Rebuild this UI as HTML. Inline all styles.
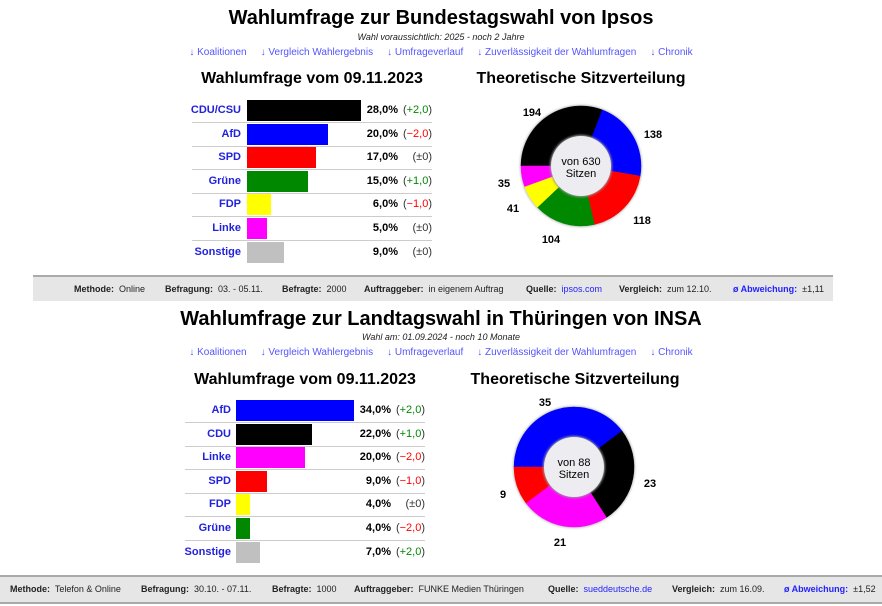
<!DOCTYPE html>
<html><head><meta charset="utf-8"><style>
body{margin:0;width:882px;height:606px;background:#fff;font-family:"Liberation Sans",Arial,sans-serif;position:relative;overflow:hidden;color:#000}
.a{position:absolute;white-space:nowrap}
.t{font-size:20px;font-weight:bold;text-align:center;width:882px;left:0}
.s{font-size:9px;font-style:italic;text-align:center;width:882px;left:0;color:#222}
.l{font-size:10px;text-align:center;width:882px;left:0;color:#55f}
.l span{margin:0 7px}
.h{font-size:16px;font-weight:bold;text-align:center;width:300px}
.lab{font-size:11px;font-weight:bold;color:#22d;text-align:right}
.pct{font-size:11px;font-weight:bold;text-align:right}
.chg{font-size:11px;text-align:right;color:#333}
.g{color:#080}.r{color:#f00}
.sep{position:absolute;height:1px;background:#ccc}
.foot{position:absolute;background:#e6e6e6;font-size:9px;color:#222}
.foot span{position:absolute;white-space:nowrap}
.foot b{font-weight:bold}
.foot .k{color:#22f}
</style></head><body>

<div class="a t" style="top:7px">Wahlumfrage zur Bundestagswahl von Ipsos</div>
<div class="a s" style="top:32px">Wahl voraussichtlich: 2025 - noch 2 Jahre</div>
<div class="a l" style="top:47px"><span>↓ Koalitionen</span><span>↓ Vergleich Wahlergebnis</span><span>↓ Umfrageverlauf</span><span>↓ Zuverlässigkeit der Wahlumfragen</span><span>↓ Chronik</span></div>
<div class="a h" style="left:162px;top:70px">Wahlumfrage vom 09.11.2023</div>
<div class="a h" style="left:431px;top:70px">Theoretische Sitzverteilung</div>

<div id="t1"></div>
<div id="t2"></div>

<div class="foot" style="left:33px;top:275px;width:800px;height:26px;border-top:2px solid #aaa;box-sizing:border-box">
<span style="left:41px;top:7px"><b>Methode:</b>&nbsp; Online</span>
<span style="left:132px;top:7px"><b>Befragung:</b>&nbsp; 03. - 05.11.</span>
<span style="left:249px;top:7px"><b>Befragte:</b>&nbsp; 2000</span>
<span style="left:331px;top:7px"><b>Auftraggeber:</b>&nbsp; in eigenem Auftrag</span>
<span style="left:493px;top:7px"><b>Quelle:</b>&nbsp; <span class="k" style="position:static">ipsos.com</span></span>
<span style="left:586px;top:7px"><b>Vergleich:</b>&nbsp; zum 12.10.</span>
<span style="left:700px;top:7px"><b class="k">ø Abweichung:</b>&nbsp; ±1,11</span>
</div>

<div class="a t" style="top:308px">Wahlumfrage zur Landtagswahl in Thüringen von INSA</div>
<div class="a s" style="top:332px">Wahl am: 01.09.2024 - noch 10 Monate</div>
<div class="a l" style="top:347px"><span>↓ Koalitionen</span><span>↓ Vergleich Wahlergebnis</span><span>↓ Umfrageverlauf</span><span>↓ Zuverlässigkeit der Wahlumfragen</span><span>↓ Chronik</span></div>
<div class="a h" style="left:155px;top:371px">Wahlumfrage vom 09.11.2023</div>
<div class="a h" style="left:425px;top:371px">Theoretische Sitzverteilung</div>

<div class="foot" style="left:0;top:575px;width:882px;height:29px;border-top:2px solid #aaa;border-bottom:2px solid #aaa;box-sizing:border-box">
<span style="left:10px;top:7px"><b>Methode:</b>&nbsp; Telefon &amp; Online</span>
<span style="left:141px;top:7px"><b>Befragung:</b>&nbsp; 30.10. - 07.11.</span>
<span style="left:272px;top:7px"><b>Befragte:</b>&nbsp; 1000</span>
<span style="left:354px;top:7px"><b>Auftraggeber:</b>&nbsp; FUNKE Medien Thüringen</span>
<span style="left:548px;top:7px"><b>Quelle:</b>&nbsp; <span class="k" style="position:static">sueddeutsche.de</span></span>
<span style="left:672px;top:7px"><b>Vergleich:</b>&nbsp; zum 16.09.</span>
<span style="left:784px;top:7px"><b class="k">ø Abweichung:</b>&nbsp; ±1,52</span>
</div>

<svg class="a" style="left:0;top:0" width="882" height="606" font-family="Liberation Sans, Arial, sans-serif">
<defs><filter id="sh"><feGaussianBlur stdDeviation="1"/></filter></defs>
<g id="d1"></g><g id="d2"></g>
</svg>

<script>
function table(id,rows,x0,lab,pctR,chgR,sepL,sepR,top,pitch,scale){
 var h='';
 rows.forEach(function(r,i){
  var y=top+i*pitch;
  h+='<div class="a lab" style="left:'+(lab-100)+'px;width:100px;top:'+(y+4)+'px">'+r[0]+'</div>';
  h+='<div class="a" style="left:'+x0+'px;top:'+y+'px;width:'+Math.round(r[2]*scale)+'px;height:21px;background:'+r[1]+'"></div>';
  h+='<div class="a pct" style="left:'+(pctR-60)+'px;width:60px;top:'+(y+4)+'px">'+r[2].toFixed(1).replace('.',',')+'%</div>';
  var c=r[3],cs;
  if(c==0)cs='(±0)';else if(c>0)cs='(<span class="g">+'+c.toFixed(1).replace('.',',')+'</span>)';else cs='(<span class="r">−'+(-c).toFixed(1).replace('.',',')+'</span>)';
  h+='<div class="a chg" style="left:'+(chgR-60)+'px;width:60px;top:'+(y+4)+'px">'+cs+'</div>';
  if(i<rows.length-1)h+='<div class="sep" style="left:'+sepL+'px;width:'+(sepR-sepL)+'px;top:'+(y+22)+'px"></div>';
 });
 document.getElementById(id).innerHTML=h;
}
table('t1',[['CDU/CSU','#000',28,2],['AfD','#00f',20,-2],['SPD','#f00',17,0],['Grüne','#080',15,1],['FDP','#ff0',6,-1],['Linke','#f0f',5,0],['Sonstige','#c0c0c0',9,0]],247,241,398,432,192,432,100,23.6,4.07);
table('t2',[['AfD','#00f',34,2],['CDU','#000',22,1],['Linke','#f0f',20,-2],['SPD','#f00',9,-1],['FDP','#ff0',4,0],['Grüne','#080',4,-2],['Sonstige','#c0c0c0',7,2]],236,231,391,425,185,425,400,23.6,3.47);

function donut(id,cx,cy,segs,total,center,labels){
 var R=60,r=30,h='<circle cx="'+cx+'" cy="'+cy+'" r="'+(R+1)+'" fill="#bbb" filter="url(#sh)"/>',a=0;
 segs.forEach(function(s){
  var a1=a+s[0]/total*2*Math.PI;
  var p=function(t,rr){return [cx-rr*Math.cos(t),cy-rr*Math.sin(t)];};
  var A=p(a,R),B=p(a1,R),large=(a1-a)>Math.PI?1:0;
  h+='<path d="M'+cx+','+cy+'L'+A[0]+','+A[1]+'A'+R+','+R+' 0 '+large+' 1 '+B[0]+','+B[1]+'Z" fill="'+s[1]+'" stroke="'+s[1]+'" stroke-width="0.5"/>';
  a=a1;
 });
 h+='<circle cx="'+cx+'" cy="'+cy+'" r="'+(r+1)+'" fill="#999" filter="url(#sh)"/>';
 h+='<circle cx="'+cx+'" cy="'+cy+'" r="'+r+'" fill="#f2f2f6" fill-opacity="0.94"/>';
 h+='<text x="'+cx+'" y="'+(cy-1)+'" font-size="11" text-anchor="middle">'+center+'</text>';
 h+='<text x="'+cx+'" y="'+(cy+11)+'" font-size="11" text-anchor="middle">Sitzen</text>';
 labels.forEach(function(l){h+='<text x="'+l[1]+'" y="'+l[2]+'" font-size="11" font-weight="bold" text-anchor="middle">'+l[0]+'</text>';});
 document.getElementById(id).innerHTML=h;
}
donut('d1',581,166,[[194,'#000'],[138,'#00f'],[118,'#f00'],[104,'#080'],[41,'#ff0'],[35,'#f0f']],630,'von 630',
 [['194',532,116],['138',653,138],['118',642,224],['104',551,243],['41',513,212],['35',504,187]]);
donut('d2',574,467,[[35,'#00f'],[23,'#000'],[21,'#f0f'],[9,'#f00']],88,'von 88',
 [['35',545,406],['23',650,487],['9',503,498],['21',560,546]]);
</script>
</body></html>
